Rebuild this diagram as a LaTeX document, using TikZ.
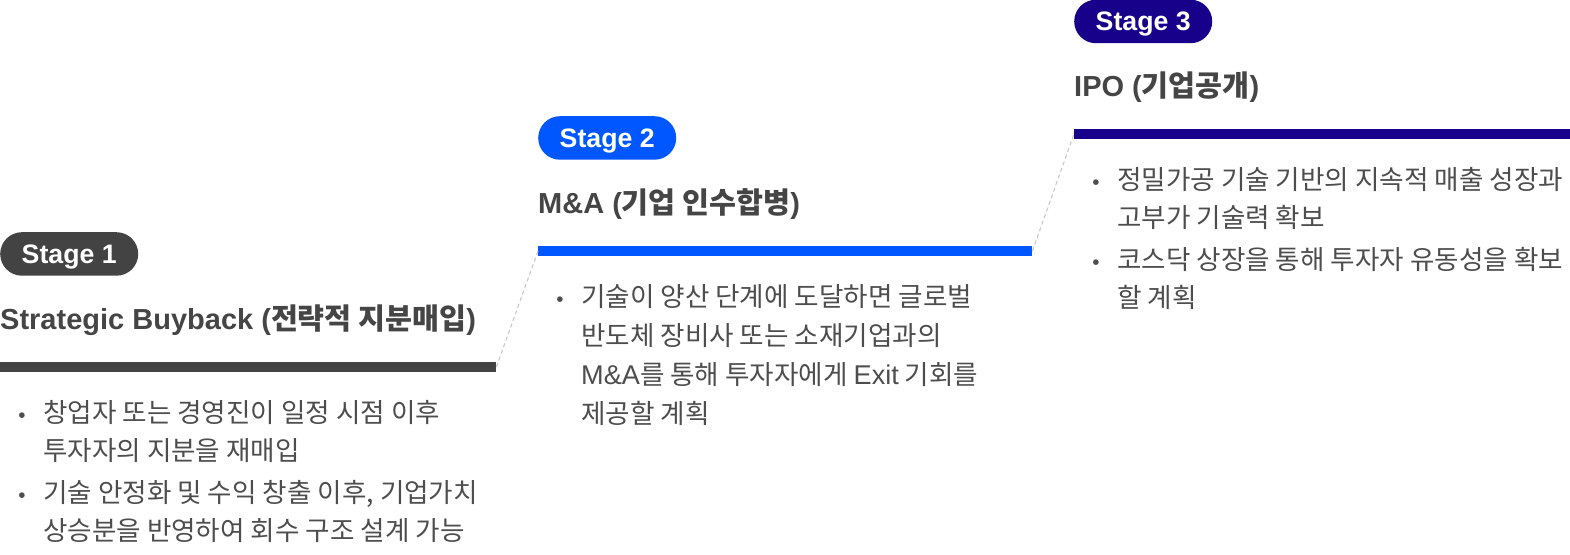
\documentclass[tikz,border=0pt]{standalone}
\usepackage{fontspec}
\setmainfont{Noto Sans CJK KR}
\newfontfamily\lat{Liberation Sans}[Scale=0.94]
\newfontfamily\latt{Liberation Sans}[Scale=0.99]
\newfontfamily\latb{Liberation Sans}[Scale=1.02]
\definecolor{grayone}{HTML}{434343}
\definecolor{bluetwo}{HTML}{0057FF}
\definecolor{navythree}{HTML}{17008A}
\definecolor{titletext}{HTML}{454545}
\definecolor{bodytext}{HTML}{4D4D4D}
\definecolor{dashgray}{HTML}{C8C8C8}
\tikzset{
  badge/.style={fill=#1, text=white, minimum width=138pt, minimum height=43.5pt,
    rounded corners=21.7pt, inner sep=0pt, anchor=north west,
    font=\lat\bfseries\fontsize{28.4}{30}\selectfont, text height=19pt, text depth=0pt},
  stagebar/.style={fill=#1, minimum height=9.5pt, inner sep=0pt, anchor=north west},
  stagetitle/.style={anchor=base west, inner sep=0pt, text=titletext,
    font=\bfseries\fontsize{29.3}{34}\selectfont},
  itemline/.style={anchor=base west, inner sep=0pt, text=bodytext,
    font=\fontsize{26.6}{30}\selectfont},
  itemdot/.style={anchor=base, inner sep=0pt, text=bodytext,
    font=\lat\fontsize{22}{22}\selectfont},
  link/.style={draw=dashgray, line width=1.1pt, dash pattern=on 4pt off 3pt},
}
\begin{document}
\begin{tikzpicture}[x=1pt,y=-1pt]
\useasboundingbox (0,0) rectangle (1570,554);

% ---------- Stage 1 ----------
\node[badge=grayone] (s1badge) at (0,232) {Stage 1};
\node[stagetitle] (s1title) at (0,329) {{\latt Strategic Buyback (}전략적 지분매입{\latt )}};
\node[stagebar=grayone, minimum width=496pt] (bar1) at (0,362) {};
\node[itemdot] (s1d1) at (22,422) {•};
\node[itemline] (s1l1) at (43,422) {창업자 또는 경영진이 일정 시점 이후};
\node[itemline] (s1l2) at (43,460) {투자자의 지분을 재매입};
\node[itemdot] (s1d2) at (22,502) {•};
\node[itemline] (s1l3) at (43,502) {기술 안정화 및 수익 창출 이후, 기업가치};
\node[itemline] (s1l4) at (43,540) {상승분을 반영하여 회수 구조 설계 가능};

% ---------- Stage 2 ----------
\node[badge=bluetwo] (s2badge) at (538,116) {Stage 2};
\node[stagetitle] (s2title) at (538,213) {{\latt M\&A (}기업 인수합병{\latt )}};
\node[stagebar=bluetwo, minimum width=494pt] (bar2) at (538,246) {};
\node[itemdot] (s2d1) at (560,306) {•};
\node[itemline] (s2l1) at (581,306) {기술이 양산 단계에 도달하면 글로벌};
\node[itemline] (s2l2) at (581,345) {반도체 장비사 또는 소재기업과의};
\node[itemline] (s2l3) at (581,384) {{\latb M\&A}를 통해 투자자에게 {\latb Exit} 기회를};
\node[itemline] (s2l4) at (581,423) {제공할 계획};

% ---------- Stage 3 ----------
\node[badge=navythree] (s3badge) at (1074,-0.5) {Stage 3};
\node[stagetitle] (s3title) at (1074,96) {{\latt IPO (}기업공개{\latt )}};
\node[stagebar=navythree, minimum width=496pt] (bar3) at (1074,129) {};
\node[itemdot] (s3d1) at (1096,189) {•};
\node[itemline] (s3l1) at (1117,189) {정밀가공 기술 기반의 지속적 매출 성장과};
\node[itemline] (s3l2) at (1117,227) {고부가 기술력 확보};
\node[itemdot] (s3d2) at (1096,269) {•};
\node[itemline] (s3l3) at (1117,269) {코스닥 상장을 통해 투자자 유동성을 확보};
\node[itemline] (s3l4) at (1117,307) {할 계획};

% ---------- connectors ----------
\draw[link] (bar1.east) -- (bar2.west);
\draw[link] (bar2.east) -- (bar3.west);
\end{tikzpicture}
\end{document}
